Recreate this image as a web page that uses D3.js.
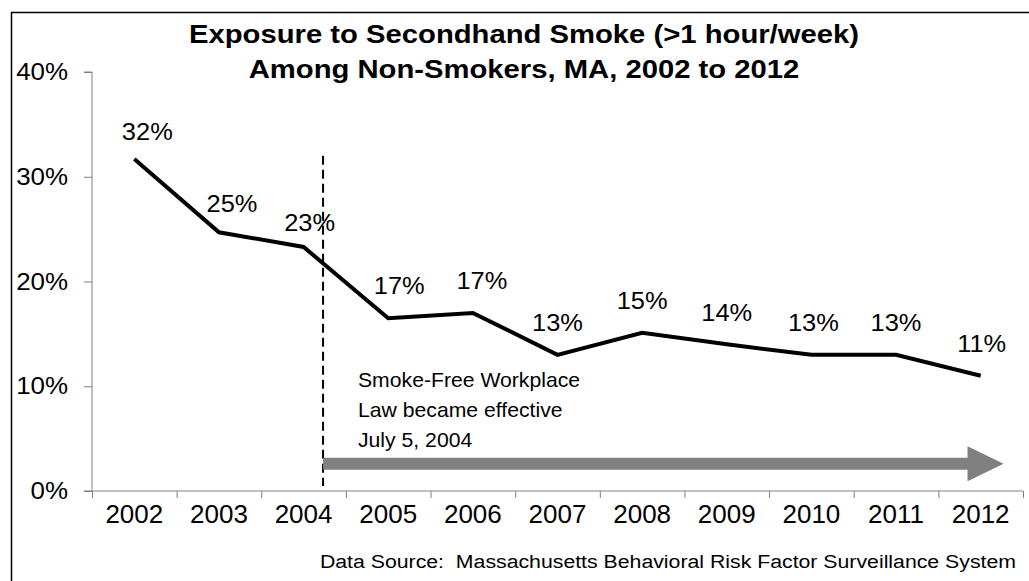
<!DOCTYPE html>
<html>
<head>
<meta charset="utf-8">
<script src="https://cdn.jsdelivr.net/npm/d3@7"></script>
<style>
  body { margin: 0; background: #fff; }
  text { font-family: "Liberation Sans", Arial, sans-serif; fill: #000; }
</style>
</head>
<body>
<div id="figure"></div>
<script>
// data
var years = [2002, 2003, 2004, 2005, 2006, 2007, 2008, 2009, 2010, 2011, 2012];
var exposure = [0.317, 0.247, 0.233, 0.165, 0.170, 0.130, 0.151, 0.140, 0.130, 0.130, 0.110];
var valueLabels = ["32%", "25%", "23%", "17%", "17%", "13%", "15%", "14%", "13%", "13%", "11%"];
var yTicks = [0, 0.1, 0.2, 0.3, 0.4];
var titleLines = ["Exposure to Secondhand Smoke (>1 hour/week)", "Among Non-Smokers, MA, 2002 to 2012"];
var noteLines = ["Smoke-Free Workplace", "Law became effective", "July 5, 2004"];
var lawDate = 2004.23;   // dashed line position on the year axis
var arrowEnd = 2012.27;
var source = "Data Source:  Massachusetts Behavioral Risk Factor Surveillance System";

// hand placed label nudges, like in the original
var labelDx = [13, 13, 6, 11, 9, 0, 0, 0, 2, 0, 1];
var labelDy = [-19, -20, -16, -24, -24, -24, -24, -23, -24, -24, -24];

const W = 1029, H = 581;
const svg = d3.select("#figure").append("svg")
  .attr("width", W).attr("height", H);

// the original picture is a bit wider than tall, so text gets stretched sideways
function stretch(sel, sx) {
  sel.attr("transform", function() {
    const tx = +this.getAttribute("x") || 0, ty = +this.getAttribute("y") || 0;
    return `translate(${tx},${ty}) scale(${sx},1) translate(${-tx},${-ty})`;
  });
}

// outer frame (runs off the right and bottom edge)
svg.append("rect")
  .attr("x", 11.5).attr("y", 12.5)
  .attr("width", W + 20).attr("height", H + 20)
  .attr("fill", "none").attr("stroke", "#000").attr("stroke-width", 1.5);

const pLeft = 92, pRight = 1023, pTop = 72, pBottom = 491;

const x = d3.scaleLinear().domain([2001.5, 2012.5]).range([pLeft, pRight]);
const y = d3.scaleLinear().domain([0, 0.4]).range([pBottom, pTop]);

// title
svg.append("g").selectAll("text")
  .data(titleLines)
  .join("text")
  .attr("x", 524)
  .attr("y", (d, i) => 43 + i * 35)
  .attr("text-anchor", "middle")
  .attr("font-size", 25)
  .attr("font-weight", "bold")
  .text(d => d)
  .call(stretch, 1.17);

// y axis
const yAxis = d3.axisLeft(y).tickValues(yTicks).tickSize(8).tickPadding(16)
  .tickFormat(d3.format(".0%"));
const gy = svg.append("g").attr("transform", `translate(${pLeft},0)`).call(yAxis);
gy.select(".domain").attr("stroke", "#808080").attr("d", `M-8,${pTop}H0V${pBottom}`);
gy.selectAll(".tick line").attr("stroke", "#808080");
gy.selectAll(".tick text").attr("font-size", 24).attr("font-family", null).attr("fill", "#000")
  .call(stretch, 1.08);

// x axis: ticks on category boundaries, labels in the middle
const bounds = d3.range(years.length + 1).map(i => 2001.5 + i);
const xAxis = d3.axisBottom(x).tickValues(bounds).tickSize(7).tickFormat("");
const gx = svg.append("g").attr("transform", `translate(0,${pBottom})`).call(xAxis);
gx.select(".domain").attr("stroke", "#808080").attr("d", `M${pLeft - 8},0H${pRight}`);
gx.selectAll(".tick line").attr("stroke", "#808080");

svg.append("g").selectAll("text")
  .data(years)
  .join("text")
  .attr("x", d => x(d))
  .attr("y", 523)
  .attr("text-anchor", "middle")
  .attr("font-size", 25)
  .text(d => d)
  .call(stretch, 1.04);

// law annotation: dashed line, arrow and note
svg.append("line")
  .attr("x1", x(lawDate)).attr("x2", x(lawDate))
  .attr("y1", y(0.32)).attr("y2", pBottom - 5)
  .attr("stroke", "#000").attr("stroke-width", 2)
  .attr("stroke-dasharray", "9,5");

const ax0 = x(lawDate), ax1 = x(arrowEnd), ay = y(0.026);
const headLen = 36, headHalf = 17.5, shaftHalf = 6;
svg.append("path")
  .attr("d", `M${ax0},${ay - shaftHalf}H${ax1 - headLen}V${ay - headHalf}L${ax1},${ay}` +
             `L${ax1 - headLen},${ay + headHalf}V${ay + shaftHalf}H${ax0}Z`)
  .attr("fill", "#808080");

svg.append("g").selectAll("text")
  .data(noteLines)
  .join("text")
  .attr("x", 358)
  .attr("y", (d, i) => 387 + i * 30)
  .attr("font-size", 20)
  .text(d => d)
  .call(stretch, 1.06);

// the series
const line = d3.line()
  .x((d, i) => x(years[i]))
  .y(d => y(d));
svg.append("path")
  .datum(exposure)
  .attr("d", line)
  .attr("fill", "none")
  .attr("stroke", "#000")
  .attr("stroke-width", 4)
  .attr("stroke-linejoin", "miter");

svg.append("g").selectAll("text")
  .data(exposure)
  .join("text")
  .attr("x", (d, i) => x(years[i]) + labelDx[i])
  .attr("y", (d, i) => y(d) + labelDy[i])
  .attr("text-anchor", "middle")
  .attr("font-size", 24)
  .text((d, i) => valueLabels[i])
  .call(stretch, 1.06);

// source note
svg.append("text")
  .attr("x", 1016)
  .attr("y", 568)
  .attr("text-anchor", "end")
  .attr("font-size", 19)
  .style("white-space", "pre")
  .text(source)
  .call(stretch, 1.12);
</script>
</body>
</html>
